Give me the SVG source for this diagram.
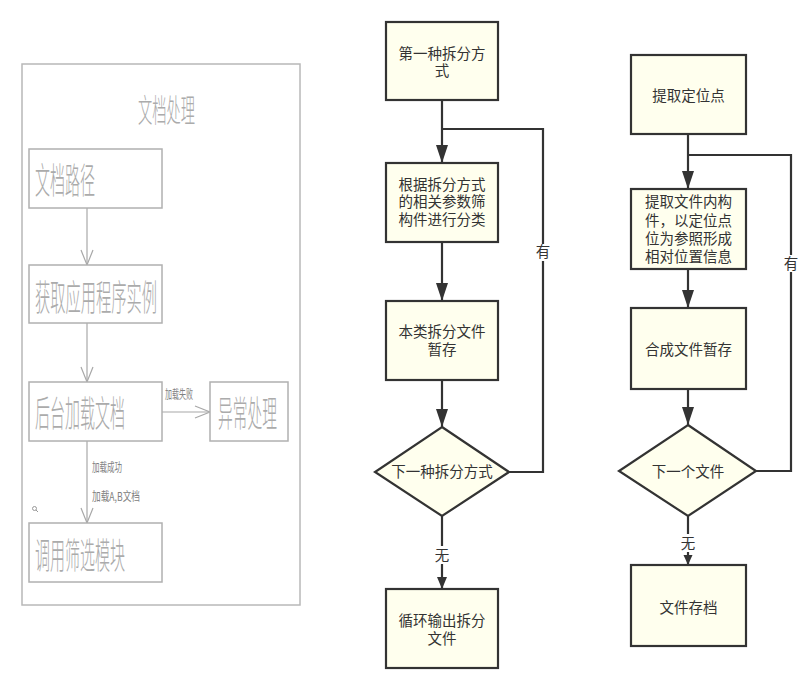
<svg xmlns="http://www.w3.org/2000/svg" width="812" height="685" viewBox="0 0 812 685">
<style>
.lt{font-family:"Noto Sans CJK SC","Liberation Sans",sans-serif;fill:#ababab;font-weight:300;}
.ls{font-family:"Noto Sans CJK SC","Liberation Sans",sans-serif;fill:#808080;font-size:12px;}
.lbox{fill:#fff;stroke:#b0b0b0;stroke-width:1.5;}
.lline{stroke:#a8a8a8;stroke-width:1.2;fill:none;}
.fbox{fill:#ffffee;stroke:#333;stroke-width:2.2;}
.fl{stroke:#333;stroke-width:2.2;fill:none;}
.ft{font-family:"Noto Sans CJK SC","Liberation Sans",sans-serif;font-size:14.5px;fill:#333;text-anchor:middle;}
</style>
<defs>
<marker id="open" markerUnits="userSpaceOnUse" markerWidth="20" markerHeight="16" viewBox="-16 -8 18 16" refX="0" refY="0" orient="auto">
<path d="M-15,-6 L0,0 L-15,6" fill="none" stroke="#a8a8a8" stroke-width="1.2"/>
</marker>
<marker id="fill" markerUnits="userSpaceOnUse" markerWidth="22" markerHeight="16" viewBox="-20 -8 22 16" refX="0" refY="0" orient="auto">
<path d="M-18,-6 L0,0 L-18,6 Z" fill="#333"/>
</marker>
<marker id="fillsm" markerUnits="userSpaceOnUse" markerWidth="16" markerHeight="14" viewBox="-14 -7 16 14" refX="0" refY="0" orient="auto">
<path d="M-12,-5 L0,0 L-12,5 Z" fill="#333"/>
</marker>
<marker id="fillxs" markerUnits="userSpaceOnUse" markerWidth="14" markerHeight="12" viewBox="-12 -6 14 12" refX="0" refY="0" orient="auto">
<path d="M-10,-4.5 L0,0 L-10,4.5 Z" fill="#333"/>
</marker>
</defs>

<!-- Left panel -->
<g id="panel">
<rect x="22" y="64" width="278" height="541" fill="#fff" stroke="#b8b8b8" stroke-width="1.5"/>
<text class="lt" x="138" y="122" font-size="32" textLength="57" lengthAdjust="spacingAndGlyphs">文档处理</text>
</g>
<g id="connectors-left">
<line class="lline" x1="87" y1="208" x2="87" y2="265" marker-end="url(#open)"/>
<line class="lline" x1="87" y1="323" x2="87" y2="382" marker-end="url(#open)"/>
<line class="lline" x1="87" y1="441" x2="87" y2="523" marker-end="url(#open)"/>
<line class="lline" x1="162" y1="412" x2="210" y2="412" marker-end="url(#open)"/>
<text class="ls" x="165" y="399" textLength="28" lengthAdjust="spacingAndGlyphs">加载失败</text>
<text class="ls" x="92" y="472" textLength="30" lengthAdjust="spacingAndGlyphs">加载成功</text>
<text class="ls" x="92" y="501" textLength="48" lengthAdjust="spacingAndGlyphs">加载A,B文档</text>
</g>
<g id="l-path">
<rect class="lbox" x="29" y="149" width="133" height="59"/>
<text class="lt" x="35" y="194" font-size="36" textLength="60" lengthAdjust="spacingAndGlyphs">文档路径</text>
</g>
<g id="l-app">
<rect class="lbox" x="29" y="265" width="133" height="58"/>
<text class="lt" x="35" y="311" font-size="36" textLength="122" lengthAdjust="spacingAndGlyphs">获取应用程序实例</text>
</g>
<g id="l-load">
<rect class="lbox" x="29" y="382" width="133" height="59"/>
<text class="lt" x="35" y="427" font-size="36" textLength="90" lengthAdjust="spacingAndGlyphs">后台加载文档</text>
</g>
<g id="l-exc">
<rect class="lbox" x="210" y="382" width="78" height="59"/>
<text class="lt" x="218" y="427" font-size="36" textLength="59" lengthAdjust="spacingAndGlyphs">异常处理</text>
</g>
<g id="l-filter">
<rect class="lbox" x="29" y="523" width="133" height="59"/>
<text class="lt" x="35" y="569" font-size="36" textLength="90" lengthAdjust="spacingAndGlyphs">调用筛选模块</text>
</g>
<g id="stray-mark">
<circle cx="34.5" cy="508.5" r="2" fill="none" stroke="#999" stroke-width="1"/>
<line x1="36" y1="510" x2="38" y2="512" stroke="#999" stroke-width="1"/>
</g>

<!-- Flowchart 1 connectors -->
<g id="connectors-1">
<line class="fl" x1="442" y1="100" x2="442" y2="163" marker-end="url(#fill)"/>
<polyline class="fl" points="442,129 543,129 543,472 509,472"/>
<line class="fl" x1="442" y1="242" x2="442" y2="301" marker-end="url(#fill)"/>
<line class="fl" x1="442" y1="380" x2="442" y2="427" marker-end="url(#fill)"/>
<line class="fl" x1="442" y1="516" x2="442" y2="589" marker-end="url(#fillsm)"/>
<rect x="535" y="244" width="16" height="17" fill="#fff"/>
<text class="ft" x="543" y="257">有</text>
<rect x="434" y="546" width="16" height="18" fill="#fff"/>
<text class="ft" x="442" y="561">无</text>
</g>
<g id="c1-first">
<rect class="fbox" x="386" y="22" width="112" height="78"/>
<text class="ft" x="442" y="59">第一种拆分方</text>
<text class="ft" x="442" y="76">式</text>
</g>
<g id="c1-classify">
<rect class="fbox" x="386" y="163" width="112" height="79"/>
<text class="ft" x="442" y="190">根据拆分方式</text>
<text class="ft" x="442" y="207">的相关参数筛</text>
<text class="ft" x="442" y="225">构件进行分类</text>
</g>
<g id="c1-temp">
<rect class="fbox" x="386" y="301" width="112" height="79"/>
<text class="ft" x="442" y="337">本类拆分文件</text>
<text class="ft" x="442" y="355">暂存</text>
</g>
<g id="c1-next">
<polygon class="fbox" points="442,427 509,472 442,516 375,472"/>
<text class="ft" x="442" y="477">下一种拆分方式</text>
</g>
<g id="c1-out">
<rect class="fbox" x="386" y="589" width="112" height="79"/>
<text class="ft" x="442" y="626">循环输出拆分</text>
<text class="ft" x="442" y="644">文件</text>
</g>

<!-- Flowchart 2 connectors -->
<g id="connectors-2">
<line class="fl" x1="688" y1="134" x2="688" y2="189" marker-end="url(#fill)"/>
<polyline class="fl" points="688,155 791,155 791,471 756,471"/>
<line class="fl" x1="688" y1="269" x2="688" y2="308" marker-end="url(#fill)"/>
<line class="fl" x1="688" y1="389" x2="688" y2="425" marker-end="url(#fill)"/>
<line class="fl" x1="688" y1="516" x2="688" y2="565" marker-end="url(#fillxs)"/>
<rect x="783" y="255" width="16" height="17" fill="#fff"/>
<text class="ft" x="791" y="269">有</text>
<rect x="680" y="534" width="16" height="18" fill="#fff"/>
<text class="ft" x="688" y="549">无</text>
</g>
<g id="c2-locate">
<rect class="fbox" x="631" y="55" width="115" height="79"/>
<text class="ft" x="688.5" y="101">提取定位点</text>
</g>
<g id="c2-extract">
<rect class="fbox" x="631" y="189" width="115" height="80"/>
<text class="ft" x="688.5" y="207">提取文件内构</text>
<text class="ft" x="688.5" y="226">件，以定位点</text>
<text class="ft" x="688.5" y="244">位为参照形成</text>
<text class="ft" x="688.5" y="262">相对位置信息</text>
</g>
<g id="c2-temp">
<rect class="fbox" x="631" y="308" width="115" height="81"/>
<text class="ft" x="688.5" y="355">合成文件暂存</text>
</g>
<g id="c2-next">
<polygon class="fbox" points="688,425 756,471 688,516 619,471"/>
<text class="ft" x="688" y="477">下一个文件</text>
</g>
<g id="c2-archive">
<rect class="fbox" x="631" y="565" width="115" height="81"/>
<text class="ft" x="688.5" y="613">文件存档</text>
</g>
</svg>
